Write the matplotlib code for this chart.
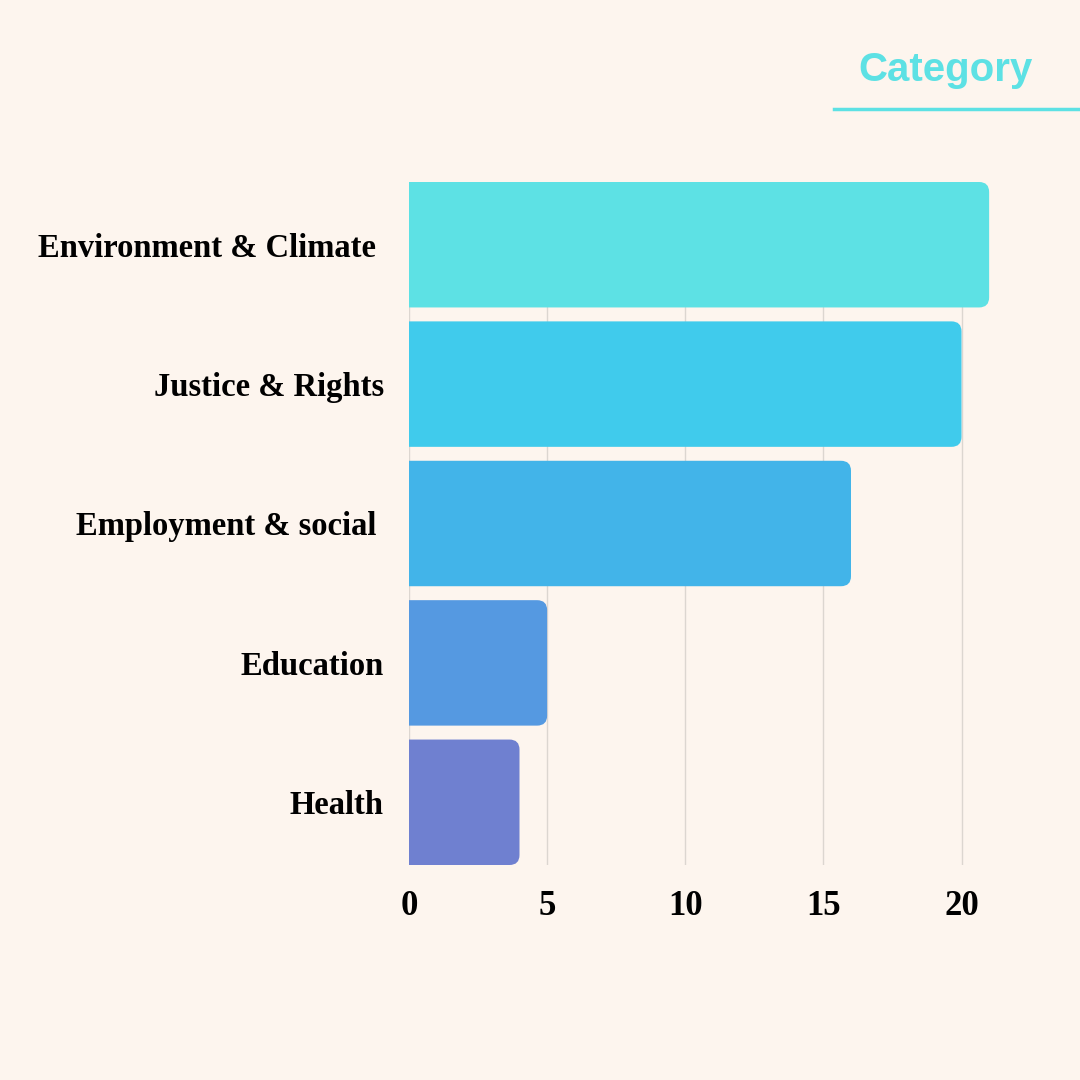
import matplotlib.pyplot as plt
from matplotlib.path import Path
from matplotlib.patches import PathPatch

# Data
categories = ["Environment & Climate ", "Justice & Rights", "Employment & social ",
              "Education", "Health"]
values = [21, 20, 16, 5, 4]
colors = ["#5de1e4", "#40cbec", "#42b4e9", "#5599e1", "#6f80d0"]
xticks = [0, 5, 10, 15, 20]

BG = "#fdf5ee"


def rounded_right(x, y, w, h, rx, ry):
    '''Path for a bar with square left side and rounded right corners.'''
    verts = [
        (x, y),
        (x + w - rx, y),
        (x + w, y), (x + w, y + ry),
        (x + w, y + h - ry),
        (x + w, y + h), (x + w - rx, y + h),
        (x, y + h),
        (x, y),
    ]
    codes = [Path.MOVETO, Path.LINETO, Path.CURVE3, Path.CURVE3, Path.LINETO,
             Path.CURVE3, Path.CURVE3, Path.LINETO, Path.CLOSEPOLY]
    return Path(verts, codes)


def main():
    fig = plt.figure(figsize=(10.8, 10.8), dpi=100, facecolor=BG)
    ax = fig.add_axes([409 / 1080, 1 - 865 / 1080, 663 / 1080, 683 / 1080])
    ax.set_facecolor(BG)

    xmax = 24
    ax.set_xlim(0, xmax)
    ax.set_ylim(len(values) - 0.55, -0.45)

    bars = ax.barh(range(len(values)), values, height=0.9, color=colors, zorder=2)

    # corner radius of ~10 px in data units
    radius_px = 10
    rx = radius_px * xmax / 663
    ry = radius_px * (len(values) - 0.1) / 683
    for bar, c in zip(bars, colors):
        x, y = bar.get_x(), bar.get_y()
        w, h = bar.get_width(), bar.get_height()
        bar.remove()
        ax.add_patch(PathPatch(rounded_right(x, y, w, h, rx, ry),
                               facecolor=c, edgecolor="none", zorder=2))

    ax.set_xticks(xticks)
    ax.set_xticklabels([str(t) for t in xticks], fontfamily="Liberation Serif",
                       fontweight="bold", fontsize=25)
    ax.set_yticks(range(len(values)))
    ax.set_yticklabels(categories, fontfamily="Liberation Serif",
                       fontweight="bold", fontsize=23.5)
    ax.tick_params(axis="x", length=0, pad=18)
    ax.tick_params(axis="y", length=0, pad=18)
    for s in ax.spines.values():
        s.set_visible(False)
    ax.grid(axis="x", color="#dcd6d0", linewidth=1.0, zorder=0)
    ax.set_axisbelow(True)

    # title and underline
    fig.text(945 / 1080, 1 - 70 / 1080, "Category", ha="center", va="center",
             fontfamily="Liberation Sans", fontweight="bold", fontsize=29,
             color="#5de1e4")
    fig.add_artist(plt.Line2D([834 / 1080, 1], [1 - 109 / 1080, 1 - 109 / 1080],
                              color="#5de1e4", linewidth=2.5))

    fig.savefig("out.png", dpi=100, facecolor=BG)


if __name__ == "__main__":
    main()
